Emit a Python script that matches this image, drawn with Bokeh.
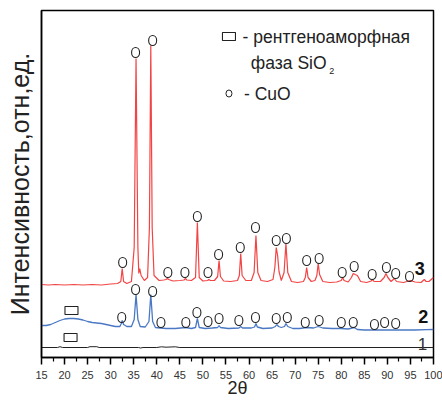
from bokeh.plotting import figure
from bokeh.models import Range1d, FixedTicker
from bokeh.core.properties import value
from bokeh.embed import file_html
from bokeh.resources import INLINE

# ---- data (2theta, intensity in arbitrary units) ----
theta3 = [15, 16.5, 18, 20, 22, 24, 26, 28, 30, 31.5, 32.2, 32.5, 32.8, 33.5, 34.5, 35.1, 35.5, 35.9, 36.1, 36.3,
          36.6, 37.3, 38.0, 38.4, 38.7, 39.0, 39.4, 40.5, 41.5, 42.0, 42.3, 42.6, 43.5, 45, 45.9, 46.2, 46.5, 47.5,
          48.4, 48.8, 49.2, 50.0, 51.0, 51.3, 51.6, 52.5, 53.2, 53.5, 53.8, 54.5, 56, 57.5, 57.9, 58.2, 58.5, 59.3,
          60.5, 61.1, 61.5, 61.9, 62.6, 64, 65.2, 65.6, 65.9, 66.2, 66.5, 67.0, 67.6, 68.0, 68.4, 69.2, 70.5, 71.8,
          72.2, 72.5, 72.8, 73.5, 74.3, 74.7, 75.0, 75.3, 76, 77.5, 79, 80.0, 80.3, 80.6, 81.5, 82.2, 82.6, 83.0,
          83.5, 84.2, 85.5, 86.5, 86.8, 87.1, 88.5, 89.3, 89.7, 90.1, 90.8, 91.5, 92.0, 93.5, 95.0, 96, 97.3, 98.0,
          98.4, 99.0, 99.5, 100]
int3 = [73, 72.5, 73, 72.5, 73, 72.5, 73, 72.5, 73.5, 74, 76, 89, 76, 74, 76, 110, 299, 110, 84, 89,
        82, 77, 80, 130, 312, 130, 82, 77, 77.5, 78, 79, 78, 76.5, 77, 77.5, 79, 77.5, 77,
        80, 135, 80, 76.5, 77, 78, 77, 77, 81, 97, 81, 76.5, 76, 77, 82, 104, 82, 77,
        77, 85, 122, 85, 77, 76, 78, 90, 110, 102, 86, 77, 85, 114, 85, 76, 75, 76,
        80, 90, 80, 76, 77, 82, 94, 83, 76, 75, 75.5, 77, 80, 77, 75.5, 80, 84, 83,
        82, 76, 75, 76.5, 78, 76, 76, 80, 84, 80, 76, 79, 76, 75, 77, 75.5, 75, 78,
        76, 76, 78, 80]

theta2 = [15, 16, 17, 18, 19, 20, 21, 22, 23, 24, 25, 26, 27, 28, 29, 30, 31, 32.0, 32.3, 32.5, 32.8, 33.5,
          34.5, 35.1, 35.5, 35.9, 36.4, 37.5, 38.3, 38.7, 39.1, 39.7, 40.8, 42, 44, 46.3, 47.5, 48.4, 48.8,
          49.2, 50.5, 52, 53.2, 53.5, 53.8, 55.5, 57.8, 58.2, 58.6, 60.5, 61.2, 61.5, 61.8, 63, 65, 65.7,
          66.0, 66.4, 67.0, 67.7, 68.0, 68.4, 69.5, 71, 72.5, 74, 75.0, 76, 78, 80, 81.5, 82.8, 83.5, 85,
          88, 92, 96, 98.5, 100]
int2 = [32, 32, 33, 35, 37, 38.5, 39, 39, 38.5, 37.5, 36, 35, 34.5, 34, 33, 32, 31, 31, 34, 37, 33, 31,
        31, 38, 63, 38, 31, 30.5, 36, 63, 36, 30, 29.5, 29, 29, 30, 29, 30, 39,
        30, 29, 29.5, 30, 32, 30, 29, 29.5, 31, 29.5, 29.5, 30.5, 34, 30.5, 29, 29.5, 31,
        33, 31, 30, 31, 34, 31, 29, 29, 30, 29.5, 31, 29.5, 29, 29, 28.5, 30, 28, 27.5,
        27.5, 27.5, 27.5, 27.8, 28]

theta1 = [15, 18.5, 19, 19.6, 25, 25.5, 27, 27.5, 36, 36.5, 37, 40, 41, 42, 44, 45, 100]
int1 = [10, 10, 10.8, 10, 10, 10.8, 10.8, 10, 10, 9.5, 10, 10, 10.7, 10.3, 10.7, 10, 10]

# CuO reflection markers
cuo3_theta = [32.6, 35.4, 39.1, 42.4, 46.1, 48.8, 51.1, 53.4, 58.1, 61.4, 65.9, 68.1, 72.5, 75.2, 80.2, 82.8,
              86.7, 89.8, 91.8, 94.8]
cuo3_int = [95, 305, 317, 85, 85, 141, 85, 103, 110, 130, 117, 119, 97, 99, 85, 91, 83, 90, 84, 81]
cuo2_theta = [32.4, 35.4, 39.1, 40.9, 46.3, 48.7, 51.1, 53.5, 57.8, 61.4, 65.9, 68.3, 72.2, 75.2, 80.0, 82.6,
              87.2, 89.4, 91.8]
cuo2_int = [40, 68, 66, 35, 35, 45, 36, 39, 37, 40, 39, 40, 35, 37, 35, 35, 33, 35, 34]

# amorphous SiO2 markers
sio2_theta = [21.5, 21.3]
sio2_int = [47, 20]

curve_labels = ["3", "2", "1"]
curve_label_theta = [97.0, 97.8, 97.6]
curve_label_int = [89, 41, 14]

x_ticks = list(range(15, 101, 5))

FONT = "Liberation Sans"

p = figure(width=442, height=400, output_backend="svg", toolbar_location=None,
           x_range=Range1d(15, 100), y_range=Range1d(0, 347),
           min_border_left=41, min_border_right=9, min_border_top=10, min_border_bottom=43)
p.background_fill_color = "white"
p.border_fill_color = "white"
p.grid.visible = False
p.outline_line_color = "black"
p.outline_line_width = 1.5

# x axis
xa = p.xaxis[0]
xa.ticker = FixedTicker(ticks=x_ticks, minor_ticks=[t + 2.5 for t in x_ticks[:-1]])
xa.axis_line_color = "black"
xa.axis_line_width = 1.5
xa.major_tick_out = 7
xa.major_tick_in = 0
xa.minor_tick_out = 4
xa.minor_tick_in = 0
xa.major_tick_line_width = 1.5
xa.minor_tick_line_width = 1.2
xa.major_label_text_font = FONT
xa.major_label_text_font_size = "11px"
xa.major_label_text_color = "#333333"
xa.major_label_standoff = 6
xa.axis_label = "2θ"
xa.axis_label_text_font = FONT
xa.axis_label_text_font_size = "18px"
xa.axis_label_text_font_style = "normal"
xa.axis_label_text_color = "#222222"
xa.axis_label_standoff = -4

# y axis (no ticks)
ya = p.yaxis[0]
ya.ticker = FixedTicker(ticks=[])
ya.axis_line_color = "black"
ya.axis_line_width = 1.5
ya.axis_label = "Интенсивность,отн,ед."
ya.axis_label_text_font = FONT
ya.axis_label_text_font_size = "25px"
ya.axis_label_text_font_style = "normal"
ya.axis_label_text_color = "#222222"
ya.axis_label_standoff = 8

# curves
p.line(theta1, int1, line_color="#222222", line_width=1)
p.line(theta2, int2, line_color="#4a78c4", line_width=1.3)
p.line(theta3, int3, line_color="#f24444", line_width=1.2)

# markers
p.ellipse(cuo3_theta + cuo2_theta, cuo3_int + cuo2_int, width=8, height=10,
          width_units="screen", height_units="screen",
          fill_alpha=0, line_color="#222222", line_width=1.1)
p.rect(sio2_theta, sio2_int, width=13, height=8, width_units="screen", height_units="screen",
       fill_alpha=0, line_color="#222222", line_width=1.1)

# curve numbers
p.text(curve_label_theta[:2], curve_label_int[:2], text=curve_labels[:2], text_font=value(FONT),
       text_font_size="18px", text_font_style="bold", text_color="#111111",
       text_align="center", text_baseline="middle")
p.text(curve_label_theta[2:], curve_label_int[2:], text=curve_labels[2:], text_font=value(FONT),
       text_font_size="17px", text_font_style="normal", text_color="#333333",
       text_align="center", text_baseline="middle")

# legend (in-plot key)
p.rect([55.65], [321], width=13, height=8, width_units="screen", height_units="screen",
       fill_alpha=0, line_color="#222222", line_width=1.1)
p.ellipse([55.65], [264], width=6, height=7, width_units="screen", height_units="screen",
          fill_alpha=0, line_color="#222222", line_width=1.0)
p.text([58.6, 60.4, 58.9], [321, 295, 264], text=["- рентгеноаморфная", "фаза SiO", "- CuO"],
       text_font=value(FONT), text_font_size="17.5px", text_color="#222222",
       text_align="left", text_baseline="middle")
p.text([77.4], [287], text=["2"], text_font=value(FONT), text_font_size="9px", text_color="#222222",
       text_align="left", text_baseline="middle")

open("out.html", "w").write(file_html(p, INLINE))
